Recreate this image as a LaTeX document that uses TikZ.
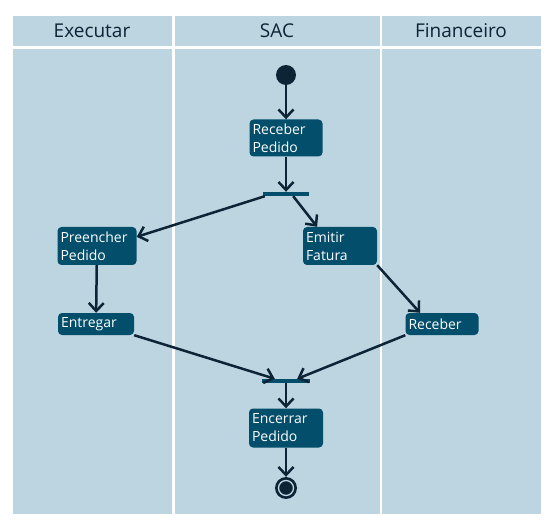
\documentclass[tikz,border=0pt]{standalone}
\usepackage{fontspec}
\setmainfont{Open Sans}
\usepackage{xcolor}
\usetikzlibrary{arrows.meta}
\definecolor{lanebg}{HTML}{BDD5E1}
\definecolor{actfill}{HTML}{034E6B}
\definecolor{inkdark}{HTML}{0D2437}

\begin{document}
\begin{tikzpicture}[x=1pt, y=-1pt,
  lane/.style={fill=lanebg, draw=none},
  head/.style={text=inkdark, font=\fontsize{19}{20}\selectfont},
  act/.style={rectangle, rounded corners=4pt, fill=actfill, text=white, align=left, inner xsep=3pt, inner ysep=1pt, font=\fontsize{14}{18}\selectfont},
  bar/.style={rectangle, fill=actfill, minimum width=46pt, minimum height=4pt, inner sep=0pt},
  flow/.style={-{Straight Barb[length=8pt,width=15pt,line width=2.5pt]}, line width=2.5pt, draw=inkdark}]
\useasboundingbox (0,0) rectangle (555,532);

% swimlanes
\fill[lane] (13,16) rectangle (172,46);
\fill[lane] (175,16) rectangle (380,46);
\fill[lane] (382,16) rectangle (541,46);
\fill[lane] (13,49) rectangle (172,514);
\fill[lane] (175,49) rectangle (380,514);
\fill[lane] (382,49) rectangle (541,514);
\node (exec) [head] at (92,31) {Executar};
\node (sac) [head] at (277,31) {SAC};
\node (fin) [head] at (461,31) {Financeiro};

% activities
\node (start) [circle, fill=inkdark, minimum size=20pt, inner sep=0pt] at (286,75) {};
\node (receive) [act, text width=67pt, minimum height=37pt] at (286,138) {Receber\\Pedido};
\node (fork) [bar] at (286,194) {};
\node (fill) [act, text width=73pt, minimum height=38pt] at (97,246) {Preencher\\Pedido};
\node (invoice) [act, text width=68pt, minimum height=38pt] at (340,246) {Emitir\\Fatura};
\node (deliver) [act, text width=70pt, minimum height=22pt] at (96,324) {Entregar};
\node (payment) [act, text width=67pt, minimum height=22pt] at (442,324) {Receber};
\node (join) [bar, minimum width=48pt] at (286,381) {};
\node (close) [act, text width=68pt, minimum height=39pt] at (286,428) {Encerrar\\Pedido};
\node (stop) [circle, fill=inkdark, minimum size=22pt, inner sep=0pt] at (286,488) {};
\draw[lanebg, line width=1.3pt] (stop.center) circle (7.5pt);

% flows
\draw[flow] (start) -- (receive);
\draw[flow] (receive) -- (fork);
\draw[flow] ([xshift=2pt]fork.south west) -- (fill.13);
\draw[flow] ([xshift=-16pt]fork.south east) -- (invoice.140);
\draw[flow] (fill) -- (deliver);
\draw[flow] (invoice.south east) -- (payment.153);
\draw[flow] (deliver.south east) -- ([xshift=13pt]join.north west);
\draw[flow] (payment.south west) -- ([xshift=-13pt]join.north east);
\draw[flow] (join) -- (close);
\draw[flow] (close) -- (stop);
\end{tikzpicture}
\end{document}
